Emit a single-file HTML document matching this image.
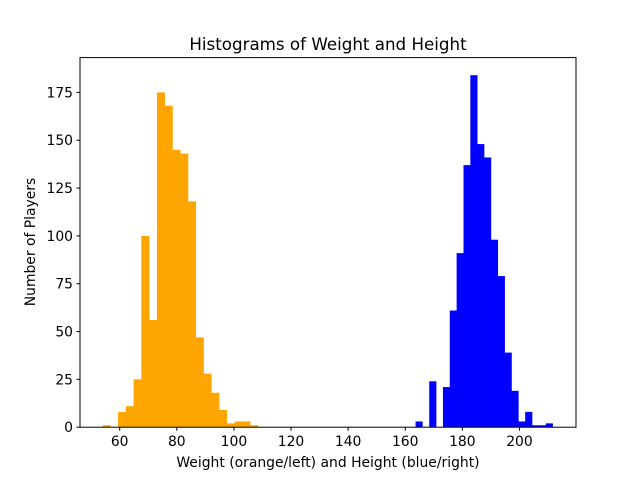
<!DOCTYPE html>
<html><head><meta charset="utf-8"><style>
body{margin:0;background:#fff;}
svg text{font-family:"DejaVu Sans","Liberation Sans",sans-serif;fill:#000;}
</style></head><body>
<svg id="chart" width="640" height="480" xmlns="http://www.w3.org/2000/svg" style="position:absolute;left:0;top:0">
<rect width="640" height="480" fill="#fff"/>
<g id="bars"></g>
<g id="axes"></g>
<text x="328" y="50" text-anchor="middle" font-size="16.7">Histograms of Weight and Height</text>
<text x="328" y="467" text-anchor="middle" font-size="13.9">Weight (orange/left) and Height (blue/right)</text>
<text x="35" y="242" text-anchor="middle" font-size="13.9" transform="rotate(-90 35 242)">Number of Players</text>
</svg>
<script>
const weightStart = 54.0;
const weightBinWidth = 2.72;
const weightCounts = [1,0,8,11,25,100,56,175,168,145,143,118,47,28,18,9,2,3,3,1];
const heightStart = 163.6;
const heightBinWidth = 2.4;
const heightCounts = [3,0,24,0,21,61,91,137,184,148,141,98,79,39,19,3,8,1,1,2];
const xTicks = [60,80,100,120,140,160,180,200];
const yTicks = [0,25,50,75,100,125,150,175];

const L=80,R=576,T=57.6,B=427.2;
const xmin=46.1,xmax=219.8,ymin=0,ymax=193.2;
const sx=v=>L+(v-xmin)/(xmax-xmin)*(R-L);
const sy=v=>B-(v-ymin)/(ymax-ymin)*(B-T);
const NS="http://www.w3.org/2000/svg";
const bars=document.getElementById('bars');
const axes=document.getElementById('axes');
function mk(tag,attrs,parent){const e=document.createElementNS(NS,tag);for(const k in attrs)e.setAttribute(k,attrs[k]);parent.appendChild(e);return e;}
function drawHist(start,w,counts,color,name){
  counts.forEach((c,i)=>{
    if(c<=0)return;
    const x0=sx(start+i*w),x1=sx(start+(i+1)*w);
    const r=mk('rect',{x:x0,y:sy(c),width:x1-x0+0.3,height:sy(0)-sy(c),fill:color},bars);
    
    
  });
}
drawHist(weightStart,weightBinWidth,weightCounts,'#ffa500','weight');
drawHist(heightStart,heightBinWidth,heightCounts,'#0000ff','height');
const frame=mk('rect',{x:L,y:T,width:R-L,height:B-T,fill:'none',stroke:'#000','stroke-width':1},axes);


xTicks.forEach(t=>{
  const x=sx(t);
  mk('line',{x1:x,x2:x,y1:B,y2:B+3.5,stroke:'#000'},axes);
  const tx=mk('text',{x:x,y:B+19,'text-anchor':'middle','font-size':13.9},axes);
  tx.textContent=t;
  
  
});
yTicks.forEach(t=>{
  const y=sy(t);
  mk('line',{x1:L-3.5,x2:L,y1:y,y2:y,stroke:'#000'},axes);
  const tx=mk('text',{x:L-7,y:y+5,'text-anchor':'end','font-size':13.9},axes);
  tx.textContent=t;
  
  
});
</script>
</body></html>
